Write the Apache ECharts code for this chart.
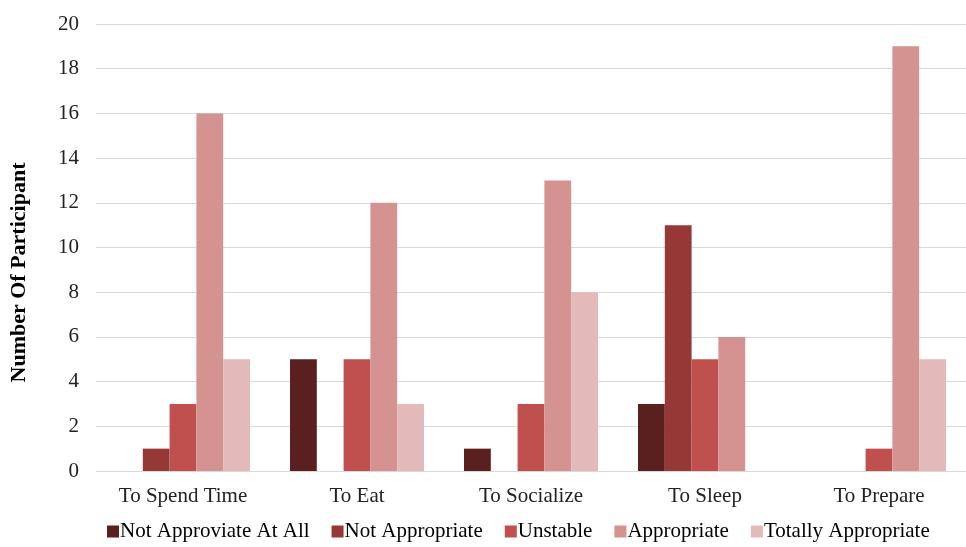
<!DOCTYPE html>
<html>
<head>
<meta charset="utf-8">
<script src="https://cdn.jsdelivr.net/npm/echarts@6/dist/echarts.min.js"></script>
<style>
  html, body { margin: 0; padding: 0; background: #fff; }
  #chart { width: 966px; height: 547px; }
</style>
</head>
<body>
<div id="chart"></div>
<script>
// Activities rated by participants
const categories = ['To Spend Time', 'To Eat', 'To Socialize', 'To Sleep', 'To Prepare'];

// Counts of participants per rating
const notApproviateAtAll = [0, 5, 1, 3, 0];
const notAppropriate = [1, 0, 0, 11, 0];
const unstable = [3, 5, 3, 5, 1];
const appropriate = [16, 12, 13, 6, 19];
const totallyAppropriate = [5, 3, 8, 0, 5];

const seriesNames = ['Not Approviate At All', 'Not Appropriate', 'Unstable', 'Appropriate', 'Totally Appropriate'];
const seriesData = [notApproviateAtAll, notAppropriate, unstable, appropriate, totallyAppropriate];
const colors = ['#5a1f1f', '#963836', '#c0504d', '#d49391', '#e3bab9'];

const font = '"Liberation Serif", "Times New Roman", serif';

const chart = echarts.init(document.getElementById('chart'), null, { renderer: 'canvas' });
chart.setOption({
  animation: false,
  color: colors,
  textStyle: { fontFamily: font },
  grid: { left: 93, right: 0, top: 24, bottom: 76, containLabel: false },
  legend: {
    bottom: 0,
    left: 102,
    itemWidth: 12,
    itemHeight: 12,
    itemGap: 22,
    icon: 'rect',
    textStyle: { fontFamily: font, fontSize: 21, color: '#000', padding: [0, 0, 0, -4] },
    data: seriesNames
  },
  xAxis: {
    type: 'category',
    data: categories,
    axisLine: { show: true, lineStyle: { color: '#d9d9d9', width: 1 } },
    axisTick: { show: false },
    axisLabel: { fontFamily: font, fontSize: 21, color: '#222', margin: 15 }
  },
  yAxis: {
    type: 'value',
    min: 0,
    max: 20,
    interval: 2,
    name: 'Number Of Participant',
    nameLocation: 'middle',
    nameGap: 66,
    nameRotate: 90,
    nameTextStyle: {
      fontFamily: font, fontSize: 22, fontWeight: 'bold', color: '#000',
      padding: [0, 50, 0, 0]
    },
    axisLine: { show: false },
    axisTick: { show: false },
    axisLabel: { fontFamily: font, fontSize: 21, color: '#222', margin: 17 },
    splitLine: { lineStyle: { color: '#d9d9d9', width: 1 } }
  },
  series: seriesNames.map((name, i) => ({
    name,
    type: 'bar',
    data: seriesData[i],
    barGap: '0%',
    barCategoryGap: '23%'
  }))
});
</script>
</body>
</html>
